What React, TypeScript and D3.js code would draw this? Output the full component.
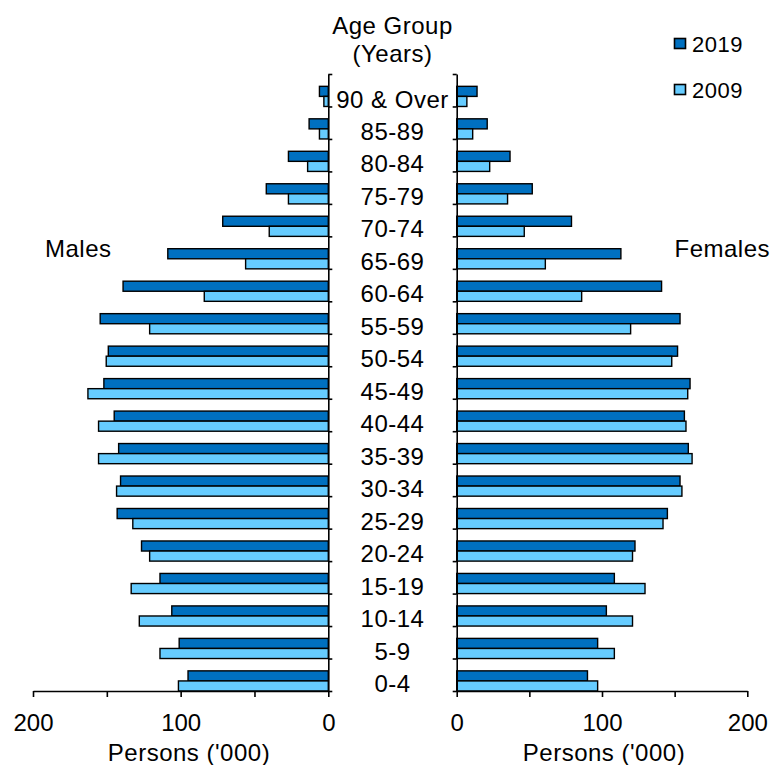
import { useEffect, useRef } from 'react';
import * as d3 from 'd3';

// age groups, bottom to top
const ageGroups = [
  '0-4', '5-9', '10-14', '15-19', '20-24', '25-29', '30-34', '35-39', '40-44', '45-49',
  '50-54', '55-59', '60-64', '65-69', '70-74', '75-79', '80-84', '85-89', '90 & Over',
];

// persons ('000)
const males2019 = [95, 101, 106, 114, 126.5, 143, 140.7, 142, 145, 152, 149, 154.5, 139, 108.7, 71.5, 42, 27, 13, 6];
const males2009 = [101.5, 114, 128, 133.5, 121, 132.4, 143.4, 155.6, 155.6, 162.8, 150.4, 121, 84, 56, 40, 27, 14, 6, 3];
const females2019 = [90, 97, 103, 108.5, 122.7, 145, 153.7, 159.4, 156.7, 160.6, 152, 153.7, 141, 113, 79, 52, 36.7, 21, 14];
const females2009 = [97, 108.5, 121, 129.6, 121, 142, 155, 162, 157.8, 159, 148, 119.7, 86, 61, 46.5, 35, 22.7, 11, 7];

const xTickValues = [0, 50, 100, 150, 200];
const xLabelValues = [0, 100, 200];

const years = ['2019', '2009'];
const colors = ['#0070C0', '#66CCFF'];

const FONT = '"Liberation Sans", Arial, sans-serif';
const SIZE = 24;
const SPACING = '0.5px';

export default function App() {
  const svgRef = useRef<SVGSVGElement>(null);
  const width = 772;
  const height = 765;

  useEffect(() => {
    if (!svgRef.current) return;
    const svg = d3.select(svgRef.current);
    svg.selectAll('*').remove();

    const top = 74;
    const bottom = 691;
    const leftZero = 328.3;
    const leftEnd = 33;
    const rightZero = 456.7;
    const rightEnd = 747.3;

    const xLeft = d3.scaleLinear().domain([0, 200]).range([leftZero, leftEnd]);
    const xRight = d3.scaleLinear().domain([0, 200]).range([rightZero, rightEnd]);
    const yBand = d3.scaleBand<string>().domain(ageGroups).range([bottom, top]).padding(0);
    // band index scale for the boundary ticks
    const yIdx = d3.scaleLinear().domain([0, ageGroups.length]).range([bottom, top]);

    const bw = Math.abs(yBand.bandwidth());
    const barH = bw * 0.31;

    // band top (scaleBand with inverted range returns the upper edge)
    const bandTop = (c: string) => yBand(c) as number;
    const bandBottom = (c: string) => bandTop(c) + bw;

    const series = [
      { side: 'left', vals: males2019, idx: 0 },
      { side: 'left', vals: males2009, idx: 1 },
      { side: 'right', vals: females2019, idx: 0 },
      { side: 'right', vals: females2009, idx: 1 },
    ];

    series.forEach((s) => {
      const g = svg.append('g');
      g.selectAll('rect')
        .data(ageGroups)
        .enter()
        .append('rect')
        .attr('x', (d, i) => (s.side === 'left' ? xLeft(s.vals[i]) : rightZero))
        .attr('width', (d, i) =>
          s.side === 'left' ? leftZero - xLeft(s.vals[i]) : xRight(s.vals[i]) - rightZero
        )
        .attr('y', (d) => bandBottom(d) - barH * (2 - s.idx))
        .attr('height', barH)
        .attr('fill', colors[s.idx])
        .attr('stroke', '#000')
        .attr('stroke-width', 1.4);
    });

    // vertical axes with boundary ticks
    const leftAxis = d3.axisRight(yIdx).tickValues(d3.range(ageGroups.length + 1)).tickSize(4).tickSizeOuter(0).tickFormat(() => '');
    svg.append('g').attr('transform', `translate(${leftZero},0)`).call(leftAxis);
    const rightAxis = d3.axisLeft(yIdx).tickValues(d3.range(ageGroups.length + 1)).tickSize(4).tickSizeOuter(0).tickFormat(() => '');
    svg.append('g').attr('transform', `translate(${rightZero},0)`).call(rightAxis);

    // bottom axes
    const fmt = (d: any) => (xLabelValues.includes(+d) ? String(d) : '');
    const bl = svg.append('g').attr('transform', `translate(0,${bottom})`)
      .call(d3.axisBottom(xLeft).tickValues(xTickValues).tickSize(6).tickSizeOuter(0).tickFormat(fmt));
    const br = svg.append('g').attr('transform', `translate(0,${bottom})`)
      .call(d3.axisBottom(xRight).tickValues(xTickValues).tickSize(6).tickSizeOuter(0).tickFormat(fmt));

    [bl, br].forEach((ax) => {
      ax.selectAll('text')
        .attr('y', 40)
        .attr('dy', 0)
        .attr('fill', '#000')
        .style('font-family', FONT)
        .style('font-size', `${SIZE}px`);
    });

    svg.selectAll('.domain, .tick line')
      .attr('stroke', '#000')
      .attr('stroke-width', 1.6);

    // category labels
    const midX = (leftZero + rightZero) / 2;
    svg.append('g')
      .selectAll('text')
      .data(ageGroups)
      .enter()
      .append('text')
      .attr('x', midX)
      .attr('y', (d) => bandBottom(d) - barH + 2.5 + 8.6)
      .attr('text-anchor', 'middle')
      .style('font-family', FONT)
      .style('font-size', `${SIZE}px`)
      .style('letter-spacing', SPACING)
      .text((d) => d);

    const addText = (txt: string, x: number, y: number, anchor: string, size = SIZE) =>
      svg.append('text')
        .attr('x', x)
        .attr('y', y)
        .attr('text-anchor', anchor)
        .style('font-family', FONT)
        .style('font-size', `${size}px`)
        .style('letter-spacing', SPACING)
        .text(txt);

    addText('Age Group', midX, 34, 'middle');
    addText('(Years)', midX, 62, 'middle');
    addText('Males', 45, 257, 'start');
    addText('Females', 770, 257, 'end');
    addText("Persons ('000)", 189, 761, 'middle');
    addText("Persons ('000)", 604, 761, 'middle');

    // legend
    years.forEach((yr, i) => {
      const ly = 38.5 + i * 46;
      svg.append('rect')
        .attr('x', 674.5)
        .attr('y', ly)
        .attr('width', 11)
        .attr('height', 10)
        .attr('fill', colors[i])
        .attr('stroke', '#000')
        .attr('stroke-width', 1.6);
      addText(yr, 692, ly + 13, 'start', 22);
    });
  }, []);

  return (
    <svg
      ref={svgRef}
      width={width}
      height={height}
      style={{ position: 'absolute', left: 0, top: 0, background: '#fff' }}
    />
  );
}
